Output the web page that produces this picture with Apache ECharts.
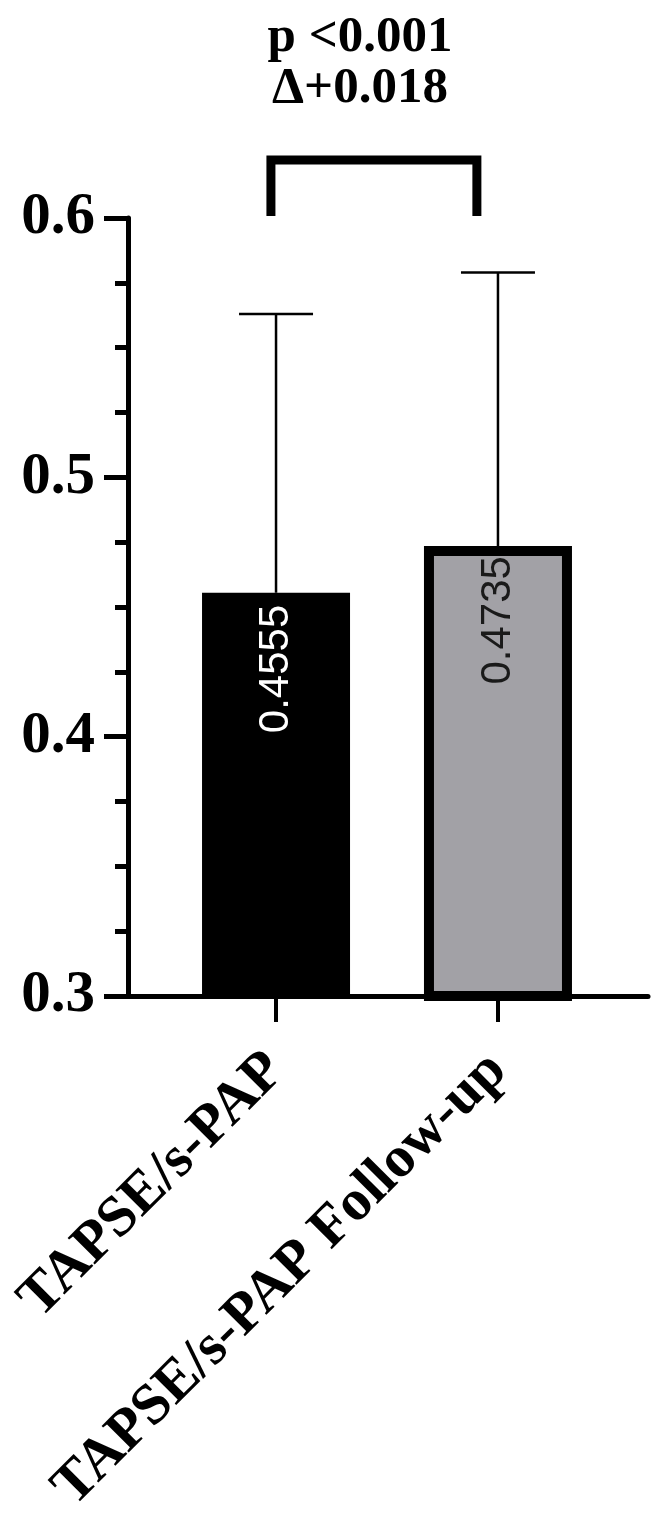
<!DOCTYPE html>
<html><head><meta charset="utf-8">
<script src="https://cdn.jsdelivr.net/npm/echarts@6/dist/echarts.min.js"></script>
<style>html,body{margin:0;padding:0;background:#fff}#c{width:660px;height:1531px}</style>
</head><body><div id="c"></div>
<script>
const categories = ['TAPSE/s-PAP', 'TAPSE/s-PAP Follow-up'];
const positions = [1, 2];
const means = [0.4555, 0.4735];
const errUpper = [0.563, 0.579];
const barColors = ['#000000', '#a2a1a6'];
const labelColors = ['#ffffff', '#1a1a1a'];
const annotation = ['p <0.001', 'Δ+0.018'];
const bracketX = [0.977, 1.905];
const bracketY = [0.6008, 0.6224];

const chart = echarts.init(document.getElementById('c'), null, {renderer: 'canvas'});
const serif = '"Liberation Serif", "Times New Roman", serif';

const option = {
  animation: false,
  backgroundColor: '#ffffff',
  grid: {left: 128, right: 12, top: 218, bottom: 535, outerBoundsMode: 'none', containLabel: false},
  xAxis: {
    type: 'value', min: 0.333, max: 2.676,
    splitLine: {show: false},
    axisLine: {show: true, onZero: false, lineStyle: {color: '#000', width: 5}},
    axisTick: {show: true, customValues: positions, length: 26, lineStyle: {color: '#000', width: 4}},
    axisLabel: {
      show: true, customValues: positions, rotate: 45, margin: 66,
      formatter: v => categories[positions.indexOf(v)] || '',
      fontFamily: serif, fontWeight: 'bold', fontSize: 58, color: '#000'
    }
  },
  yAxis: {
    type: 'value', min: 0.3, max: 0.6, interval: 0.1,
    splitLine: {show: false},
    axisLine: {show: true, lineStyle: {color: '#000', width: 5}},
    axisTick: {show: true, length: 24, lineStyle: {color: '#000', width: 5}},
    minorTick: {show: true, splitNumber: 4, length: 13, lineStyle: {color: '#000', width: 5}},
    minorSplitLine: {show: false},
    axisLabel: {
      margin: 33, formatter: v => v.toFixed(1),
      fontFamily: serif, fontWeight: 'bold', fontSize: 59, color: '#000'
    }
  },
  graphic: annotation.map((t, i) => ({
    type: 'text', x: 360, y: 38 + i * 51, z: 10,
    style: {text: t, textAlign: 'center', textVerticalAlign: 'middle',
      font: 'bold 51px ' + serif, fill: '#000'}
  })),
  series: [
    {
      type: 'bar', barWidth: 148,
      data: positions.map((p, i) => ({
        value: [p, means[i]],
        itemStyle: {color: barColors[i], borderColor: '#000', borderWidth: i === 0 ? 0 : 10},
        label: {color: labelColors[i], distance: i === 0 ? 12 : 10}
      })),
      label: {
        show: true, position: 'insideTop', rotate: 90, align: 'right', verticalAlign: 'middle',
        fontFamily: '"Liberation Sans", Arial, sans-serif', fontSize: 42,
        formatter: p => String(means[p.dataIndex])
      },
      z: 2
    },
    {
      type: 'custom', z: 1, clip: false,
      data: positions.map((p, i) => [p, means[i], errUpper[i]]),
      renderItem: (params, api) => {
        const a = api.coord([api.value(0), api.value(1)]);
        const b = api.coord([api.value(0), api.value(2)]);
        const st = {stroke: '#000', lineWidth: 2.5};
        return {type: 'group', children: [
          {type: 'line', shape: {x1: a[0], y1: a[1], x2: b[0], y2: b[1]}, style: st},
          {type: 'line', shape: {x1: b[0] - 37, y1: b[1], x2: b[0] + 37, y2: b[1]}, style: st}
        ]};
      }
    },
    {
      type: 'line', clip: false, symbol: 'none', silent: true,
      lineStyle: {color: '#000', width: 9, join: 'miter', cap: 'butt'},
      data: [[bracketX[0], bracketY[0]], [bracketX[0], bracketY[1]], [bracketX[1], bracketY[1]], [bracketX[1], bracketY[0]]]
    }
  ]
};
chart.setOption(option);
</script></body></html>
